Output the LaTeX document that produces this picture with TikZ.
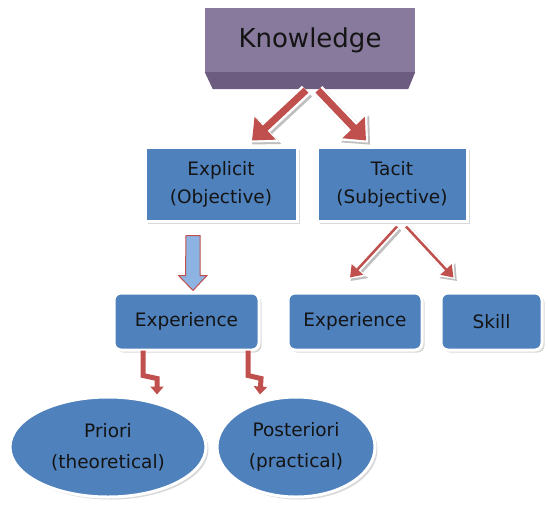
\documentclass[tikz,border=0pt]{standalone}
\usepackage{fontspec}
\setmainfont{DejaVu Sans}
\usetikzlibrary{arrows.meta,shapes.geometric,shadows,calc}
\definecolor{boxblue}{HTML}{4F81BD}
\definecolor{arrred}{HTML}{C0504D}
\definecolor{kpurple}{HTML}{877A9C}
\definecolor{kbevel}{HTML}{6B5C80}
\definecolor{lblue}{HTML}{8DB3E2}
\definecolor{txt}{HTML}{141414}
\begin{document}
\begin{tikzpicture}[x=1pt,y=-1pt,
  bluebox/.style={rectangle, fill=boxblue, draw=white, line width=3pt,
    drop shadow={shadow xshift=2.5pt, shadow yshift=-2.5pt, fill=black!30},
    text=txt, font=\fontsize{18.5}{28}\selectfont, align=center, inner sep=0pt},
  roundbox/.style={bluebox, rounded corners=7pt},
  ellbox/.style={ellipse, fill=boxblue, draw=white, line width=3pt,
    drop shadow={shadow xshift=2.5pt, shadow yshift=-2.5pt, fill=black!30},
    text=txt, font=\fontsize{18.5}{31}\selectfont, align=center, inner sep=0pt},
  bigarr/.style={draw=arrred, line width=7pt, -{Triangle[length=18pt,width=30pt]},
    preaction={draw=black!25, line width=12pt, -{Triangle[length=22pt,width=38pt]},
      shorten >=-3pt, transform canvas={shift={(2pt,-2pt)}}},
    preaction={draw=white, line width=12pt, -{Triangle[length=22pt,width=38pt]}, shorten >=-3pt}},
  thinarr/.style={draw=arrred, line width=2.5pt, -{Triangle[length=11pt,width=15pt]},
    preaction={draw=black!25, line width=6.5pt, -{Triangle[length=14pt,width=21pt]},
      shorten >=-2pt, transform canvas={shift={(2pt,-2pt)}}},
    preaction={draw=white, line width=6.5pt, -{Triangle[length=14pt,width=21pt]}, shorten >=-2pt}},
  zigarr/.style={draw=arrred, line width=5pt, -{Triangle[length=8pt,width=13pt]}},
]
\useasboundingbox (0,0) rectangle (548,504);

% Knowledge 3D box
\node[rectangle, fill=kpurple, minimum width=210pt, minimum height=64pt, inner sep=0pt,
  text=txt, font=\fontsize{26}{30}\selectfont] (kn) at (310,40) {Knowledge};
\fill[kbevel] (kn.south west) -- (kn.south east) -- ++(-7,17) -- ($(kn.south west)+(8,17)$) -- cycle;

% Level 2
\node[bluebox, minimum width=152pt, minimum height=74pt] (ex) at (221,184) {Explicit\\(Objective)};
\node[bluebox, minimum width=150pt, minimum height=74pt] (ta) at (392,184) {Tacit\\(Subjective)};

% Level 3
\node[roundbox, minimum width=145pt, minimum height=57pt] (e1) at (186.5,321.5) {Experience};
\node[roundbox, minimum width=134pt, minimum height=57pt] (e2) at (355,321.5) {Experience};
\node[roundbox, minimum width=101pt, minimum height=57pt] (sk) at (491.5,321.5) {Skill};

% Level 4
\node[ellbox, minimum width=196pt, minimum height=100pt] (pr) at (108,447) {Priori\\(theoretical)};
\node[ellbox, minimum width=158pt, minimum height=100pt] (po) at (296,447) {Posteriori\\(practical)};

% Knowledge arrows
\draw[bigarr] ($(kn.south)+(-4,18)$) -- ($(ex.north)+(31,-5)$);
\draw[bigarr] ($(kn.south)+(8,18)$) -- ($(ta.north)+(-26,-5)$);

% Explicit -> Experience hollow block arrow
\filldraw[fill=lblue, draw=arrred, line width=1pt]
  ($(e1.north)+(-0.5,-56)$) -- ++(14,0) -- ++(0,40) -- ++(7,0)
  -- ($(e1.north)+(6.5,-1)$) -- ++(-14.5,-15) -- ++(7,0) -- cycle;

% Tacit arrows
\draw[thinarr] ($(ta.south)+(5,4)$) -- ($(e2.north)+(-5,-14)$);
\draw[thinarr] ($(ta.south)+(14,4)$) -- ($(sk.north)+(-38,-14)$);

% Zig-zag arrows
\draw[zigarr] ($(e1.south)+(-43.5,-1)$) -- ++(0,25) -- ++(14,3) -- ($(pr.north)+(49,-1)$);
\draw[zigarr] ($(e1.south)+(61.5,-1)$) -- ++(0,25) -- ++(13,3) -- ($(po.north)+(-36,-1)$);
\end{tikzpicture}
\end{document}
